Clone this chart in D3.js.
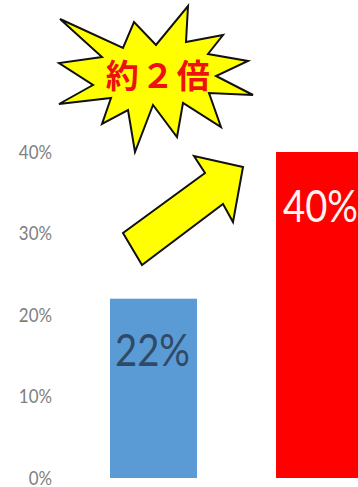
<!DOCTYPE html>
<html>
<head>
<meta charset="utf-8">
<script src="https://cdn.jsdelivr.net/npm/d3@7"></script>
<style>
html,body{margin:0;padding:0;background:#fff;overflow:hidden}
svg{display:block}
</style>
</head>
<body>
<svg id="chart" width="358" height="487"></svg>
<script>
// Comparison data
const categories = ["before", "after"];
const values = [0.22, 0.40];
const valueLabels = ["22%", "40%"];
const barColors = ["#5b9bd5", "#ff0000"];
const labelColors = ["#2f4a68", "#fff4f0"];
const tickValues = [0, 0.1, 0.2, 0.3, 0.4];

// Callout outlines
const burstOutline = [[60,19],[123,48],[134,22],[156,45],[188,6],[186,42],[223,35],[208,54],[248,61],[216,76],[253,95],[209,93],[221,127],[183,103],[177,137],[153,105],[135,152],[128,110],[102,124],[111,98],[59,104],[93,85],[59,63],[102,57]];
const arrowOutline = [[243,167],[194,156],[205,173],[123,233],[142,265],[223,204],[233,222]];

const font = "Lato, 'Noto Sans', sans-serif";
const svg = d3.select("#chart");

const y = d3.scaleLinear().domain([0, 0.4]).range([478, 152]);
const x = d3.scaleBand().domain(categories).range([110, 363]).paddingInner(0.476);

// Percentage axis: labels only, no line or tick marks
const axis = d3.axisLeft(y).tickValues(tickValues).tickFormat(d3.format(".0%")).tickSize(0).tickPadding(0);
const axisG = svg.append("g").attr("transform", "translate(52,0)").call(axis);
axisG.select(".domain").remove();
axisG.selectAll("text")
  .attr("font-family", font).attr("font-size", 19).attr("fill", "#7f7f7f")
  .attr("transform", "scale(0.89,1)");

// Bars
svg.selectAll("rect.bar").data(categories).join("rect")
  .attr("class", "bar")
  .attr("x", d => x(d))
  .attr("width", x.bandwidth())
  .attr("y", (d, i) => y(values[i]))
  .attr("height", (d, i) => y(0) - y(values[i]))
  .attr("fill", (d, i) => barColors[i]);

// Value labels inside the bars, condensed to sit within the bar width
svg.selectAll("text.value").data(categories).join("text")
  .attr("class", "value")
  .attr("transform", (d, i) =>
    `translate(${x(d) + (i === 1 ? 7 : 5)},${y(values[i]) + (i === 1 ? 70 : 67)}) scale(0.85,1)`)
  .attr("font-family", font).attr("font-size", 45)
  .attr("fill", (d, i) => labelColors[i])
  .text((d, i) => valueLabels[i]);

const outline = d3.line();

// Burst callout
svg.append("path")
  .attr("d", outline(burstOutline) + "Z")
  .attr("fill", "#ffff00").attr("stroke", "#111").attr("stroke-width", 2).attr("stroke-linejoin", "miter");
svg.append("text")
  .attr("x", 159).attr("y", 88).attr("text-anchor", "middle")
  .attr("font-family", "'Noto Sans CJK JP', sans-serif").attr("font-weight", 700)
  .attr("font-size", 33).attr("letter-spacing", 2.5).attr("fill", "#ee1111")
  .text("約２倍");

// Arrow pointing toward the taller bar
svg.append("path")
  .attr("d", outline(arrowOutline) + "Z")
  .attr("fill", "#ffff00").attr("stroke", "#111").attr("stroke-width", 2).attr("stroke-linejoin", "miter");
</script>
</body>
</html>
